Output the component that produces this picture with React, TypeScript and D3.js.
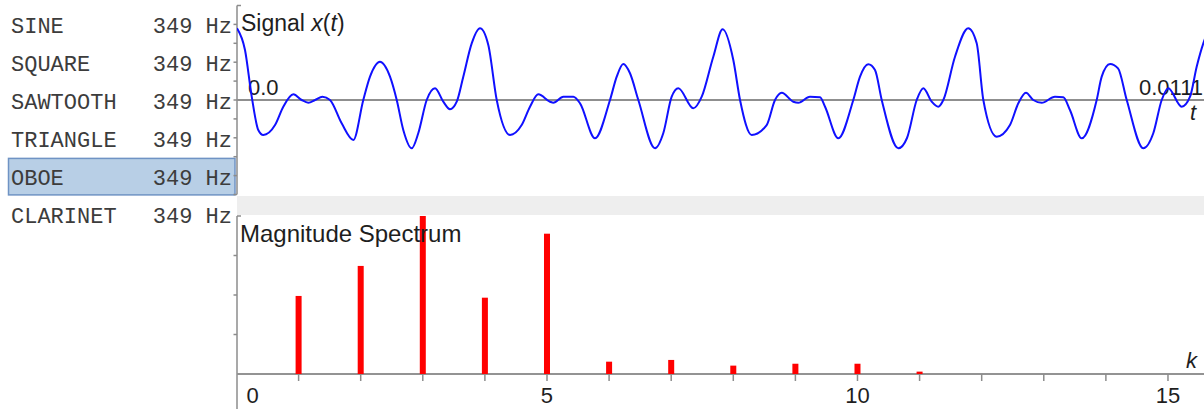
import React from "react";
import * as d3 from "d3";

// ---- data ----
const waveNames = ["SINE", "SQUARE", "SAWTOOTH", "TRIANGLE", "OBOE", "CLARINET"];
const waveFreqs = ["349 Hz", "349 Hz", "349 Hz", "349 Hz", "349 Hz", "349 Hz"];
const selectedWave = "OBOE";

// signal x(t): time in ms, amplitude
const sigT = [
  0.0, 0.094, 0.173, 0.25, 0.309, 0.447, 0.544, 0.662, 0.76, 0.838, 0.917, 1.005, 1.093, 1.23, 1.367,
  1.484, 1.563, 1.68, 1.798, 1.877, 1.954, 2.053, 2.13, 2.229, 2.327, 2.424, 2.503, 2.582, 2.659, 2.758,
  2.855, 2.953, 3.052, 3.208, 3.345, 3.443, 3.541, 3.678, 3.717, 3.835, 3.952, 4.031, 4.207, 4.383, 4.462,
  4.539, 4.618, 4.716, 4.912, 5.009, 5.108, 5.186, 5.362, 5.461, 5.597, 5.707, 5.832, 5.911, 6.048, 6.224,
  6.322, 6.401, 6.537, 6.596, 6.733, 6.851, 6.91, 7.066, 7.242, 7.321, 7.418, 7.497, 7.576, 7.771, 7.873,
  7.987, 8.065, 8.163, 8.241, 8.3, 8.437, 8.593, 8.692, 8.77, 8.927, 9.083, 9.181, 9.271, 9.357, 9.456,
  9.612, 9.71, 9.788, 9.926, 10.102, 10.161, 10.259, 10.353, 10.455, 10.65, 10.767, 10.866, 10.943, 11.101,
  11.199, 11.277, 11.355, 11.43,
];
const sigV = [
  0.759, 0.529, 0.035, -0.317, -0.37, -0.265, -0.071, 0.06, 0.0, -0.029, 0.0, 0.035, 0.0, -0.247, -0.423,
  0.0, 0.247, 0.405, 0.247, 0.0, -0.317, -0.511, -0.352, 0.0, 0.124, -0.018, -0.098, -0.018, 0.247, 0.6,
  0.759, 0.582, 0.0, -0.37, -0.265, -0.071, 0.06, -0.018, -0.029, 0.035, 0.035, -0.035, -0.405, 0.0, 0.247,
  0.381, 0.283, 0.0, -0.511, -0.352, 0.035, 0.124, -0.088, 0.035, 0.458, 0.748, 0.423, 0.0, -0.37, -0.265,
  0.0, 0.077, -0.018, -0.029, 0.035, 0.029, -0.071, -0.405, 0.0, 0.247, 0.378, 0.317, 0.0, -0.511, -0.402,
  0.0, 0.124, -0.018, -0.071, 0.0, 0.458, 0.759, 0.6, 0.0, -0.388, -0.265, -0.035, 0.077, 0.0, -0.029,
  0.035, 0.029, -0.106, -0.405, 0.0, 0.247, 0.381, 0.335, 0.0, -0.511, -0.352, 0.0, 0.124, -0.071,
  0.035, 0.352, 0.6, 0.759,
];
const signalTMax = 11.363; // ms visible
const signalStartLabel = "0.0";
const signalEndLabel = "0.0111";

// magnitude spectrum
const harmonicK = [1, 2, 3, 4, 5, 6, 7, 8, 9, 10, 11];
const harmonicMag = [0.494, 0.684, 1.0, 0.483, 0.888, 0.078, 0.089, 0.053, 0.065, 0.065, 0.015];
const kTicks = d3.range(1, 16);
const kLabels = [0, 5, 10, 15];
const kMax = 15.58;
const magTicks = [0.25, 0.5, 0.75];

const W = 1204;
const H = 409;
const sans = "'Liberation Sans', Arial, sans-serif";
const mono = "'Liberation Mono', 'Courier New', monospace";

export default function App() {
  const axisX = 237;
  // top panel
  const xT = d3.scaleLinear().domain([0, signalTMax]).range([axisX, W]);
  const yS = d3.scaleLinear().domain([-1, 1]).range([194.5, 5.5]);
  const sigTicks = d3.range(-1, 0.9999, 0.2);
  const pts: [number, number][] = sigT.map((t, i) => [t, sigV[i]]);
  const line = d3
    .line<[number, number]>()
    .x((d) => xT(d[0]))
    .y((d) => yS(d[1]))
    .curve(d3.curveMonotoneX);

  // bottom panel
  const xK = d3.scaleLinear().domain([0, kMax]).range([236.5, W]);
  const yM = d3.scaleLinear().domain([0, 1]).range([374, 216]);

  // list
  const rowY = d3.scaleLinear().domain([0, 1]).range([33.3, 71.2]);

  const axisColor = "#8c8c8c";

  return (
    <svg
      width={W}
      height={H}
      style={{ position: "absolute", left: 0, top: 0, background: "#fff" }}
    >
      <defs>
        <clipPath id="sigclip">
          <rect x={axisX} y={0} width={W - axisX} height={196} />
        </clipPath>
      </defs>

      {/* list panel */}
      {waveNames.map((n, i) => {
        const by = rowY(i);
        const sel = n === selectedWave;
        return (
          <g key={n}>
            {sel && (
              <rect
                x={8.5}
                y={by - 26.5}
                width={226.5}
                height={36.5}
                fill="#b8cfe6"
                stroke="#6f93c4"
                strokeWidth={1.5}
              />
            )}
            <text x={11} y={by} fontFamily={mono} fontSize={22} fill="#3c3c3c">
              {n}
            </text>
            <text x={232} y={by} fontFamily={mono} fontSize={22} fill="#3c3c3c" textAnchor="end">
              {waveFreqs[i]}
            </text>
          </g>
        );
      })}

      {/* separator band */}
      <rect x={axisX} y={196} width={W - axisX} height={19} fill="#eeeeee" />

      {/* top axis */}
      <line x1={axisX} x2={axisX} y1={yS(1)} y2={yS(-1)} stroke={axisColor} strokeWidth={1.5} />
      <line x1={axisX} x2={axisX + 4} y1={yS(1)} y2={yS(1)} stroke={axisColor} strokeWidth={1.5} />
      {sigTicks.map((v, i) => (
        <line key={i} x1={axisX - 3.5} x2={axisX} y1={yS(v)} y2={yS(v)} stroke={axisColor} strokeWidth={1.5} />
      ))}
      <line x1={axisX} x2={W} y1={yS(0)} y2={yS(0)} stroke="#8f8f8f" strokeWidth={2} />

      <text x={241} y={31} fontFamily={sans} fontSize={23} fill="#1e1e1e">
        Signal <tspan fontStyle="italic">x</tspan>(<tspan fontStyle="italic">t</tspan>)
      </text>
      <text x={248} y={95} fontFamily={sans} fontSize={22} fill="#1e1e1e">
        {signalStartLabel}
      </text>
      <text x={1203} y={95} fontFamily={sans} fontSize={22} fill="#1e1e1e" textAnchor="end">
        {signalEndLabel}
      </text>
      <text x={1190} y={120} fontFamily={sans} fontSize={22} fontStyle="italic" fill="#1e1e1e">
        t
      </text>

      <path d={line(pts) || ""} fill="none" stroke="#1010ff" strokeWidth={2} clipPath="url(#sigclip)" />

      {/* bottom axis */}
      <line x1={axisX} x2={axisX} y1={yM(1)} y2={H} stroke={axisColor} strokeWidth={1.5} />
      <line x1={axisX} x2={axisX + 4} y1={yM(1)} y2={yM(1)} stroke={axisColor} strokeWidth={1.5} />
      {magTicks.map((v) => (
        <line key={v} x1={axisX - 3.5} x2={axisX} y1={yM(v)} y2={yM(v)} stroke={axisColor} strokeWidth={1.5} />
      ))}
      <line x1={axisX} x2={W} y1={yM(0)} y2={yM(0)} stroke="#939393" strokeWidth={2} />
      {kTicks.map((k) => (
        <line key={k} x1={xK(k)} x2={xK(k)} y1={yM(0)} y2={yM(0) + 7} stroke={axisColor} strokeWidth={1.5} />
      ))}
      {kLabels.map((k) => (
        <text
          key={k}
          x={k === 0 ? xK(k) + 16 : xK(k)}
          y={403}
          fontFamily={sans}
          fontSize={22}
          fill="#1e1e1e"
          textAnchor="middle"
        >
          {k}
        </text>
      ))}
      <text x={1186} y={368} fontFamily={sans} fontSize={22} fontStyle="italic" fill="#1e1e1e">
        k
      </text>

      {harmonicK.map((k, i) => (
        <rect
          key={k}
          x={xK(k) - 3}
          y={yM(harmonicMag[i])}
          width={6}
          height={yM(0) - yM(harmonicMag[i])}
          fill="#ff0000"
        />
      ))}

      <text x={240} y={241.5} fontFamily={sans} fontSize={24} fill="#1e1e1e">
        Magnitude Spectrum
      </text>
    </svg>
  );
}
